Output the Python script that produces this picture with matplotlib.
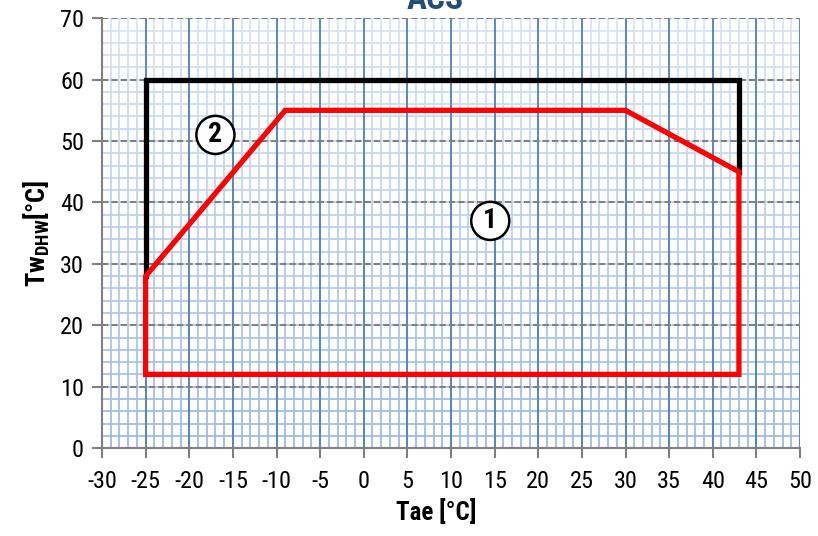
import numpy as np
import matplotlib
matplotlib.use('Agg')
import matplotlib.pyplot as plt

# operating envelope (Tae, Tw_DHW)
zone1_x = [-25, -25, -9, 30, 43, 43, -25]
zone1_y = [12, 28, 55, 55, 45, 12, 12]
zone2_x = [-25, -25, 43, 43]
zone2_y = [28, 60, 60, 45]
labels = ['1', '2']
label_x = [14.5, -17]
label_y = [37, 51]

fam = 'Roboto Condensed'
plt.rcParams['font.family'] = [fam, 'DejaVu Sans']
plt.rcParams['axes.unicode_minus'] = False
plt.rcParams['mathtext.fontset'] = 'custom'
plt.rcParams['mathtext.rm'] = fam + ':bold'
plt.rcParams['mathtext.bf'] = fam + ':bold'

fig = plt.figure(figsize=(8.18, 5.36), dpi=100)
ax = fig.add_axes([0.1247, 0.164, 0.8533, 0.802])

# minor grid, fading towards the bottom
minor_c = '#9dbbe6'
ax.vlines(np.arange(-30, 51, 1), 0, 70, color=minor_c, lw=1.3, zorder=0.2)
ax.hlines(np.arange(0, 71, 2), -30, 50, color=minor_c, lw=1.3, zorder=0.2)
grad = np.linspace(0.0, 0.62, 256).reshape(-1, 1)
rgba = np.ones((256, 1, 4))
rgba[:, :, 3] = grad
ax.imshow(rgba, extent=[-30, 50, 70, 0], aspect='auto', zorder=0.3, interpolation='bilinear')
ax.set_xlim(-30, 50)
ax.set_ylim(0, 70)

ax.set_axisbelow(True)
ax.set_xticks(np.arange(-30, 51, 5))
ax.set_yticks(np.arange(0, 71, 10))
ax.xaxis.grid(True, color='#4f81bd', lw=1.3)
ax.yaxis.grid(True, color='#808080', lw=1.5, linestyle=(0, (3, 1.5)))

for s in ['top', 'right']:
    ax.spines[s].set_visible(False)
for s in ['left', 'bottom']:
    ax.spines[s].set_color('#808080')
    ax.spines[s].set_linewidth(1.5)
ax.tick_params(axis='both', colors='#808080', width=1.5, length=7, labelsize=17.5,
               labelcolor='black')
ax.tick_params(axis='x', pad=9)
ax.tick_params(axis='y', pad=6)

ax.plot(zone2_x, zone2_y, color='black', lw=3.8, solid_joinstyle='miter', zorder=3)
ax.plot(zone1_x, zone1_y, color='#ff0000', lw=3.8, solid_joinstyle='miter', zorder=4)

for t, x, y in zip(labels, label_x, label_y):
    ax.text(x, y, t, ha='center', va='center', fontsize=20, fontweight='bold', zorder=5,
            bbox=dict(boxstyle='circle,pad=0.2', fc='white', ec='black', lw=1.8))

ax.set_xlabel('Tae [°C]', fontsize=18, fontweight='bold')
ax.xaxis.set_label_coords(0.479, -0.118)
ax.set_ylabel(r'Tw$_{\mathbf{DHW}}$[°C]', fontsize=19, fontweight='bold')
ax.yaxis.set_label_coords(-0.072, 0.5)

fig.text(0.532, 1.0, 'ACS', ha='center', va='center', fontsize=24, fontweight='bold',
         color='#1f4e79')

fig.savefig('out.png', dpi=100)
